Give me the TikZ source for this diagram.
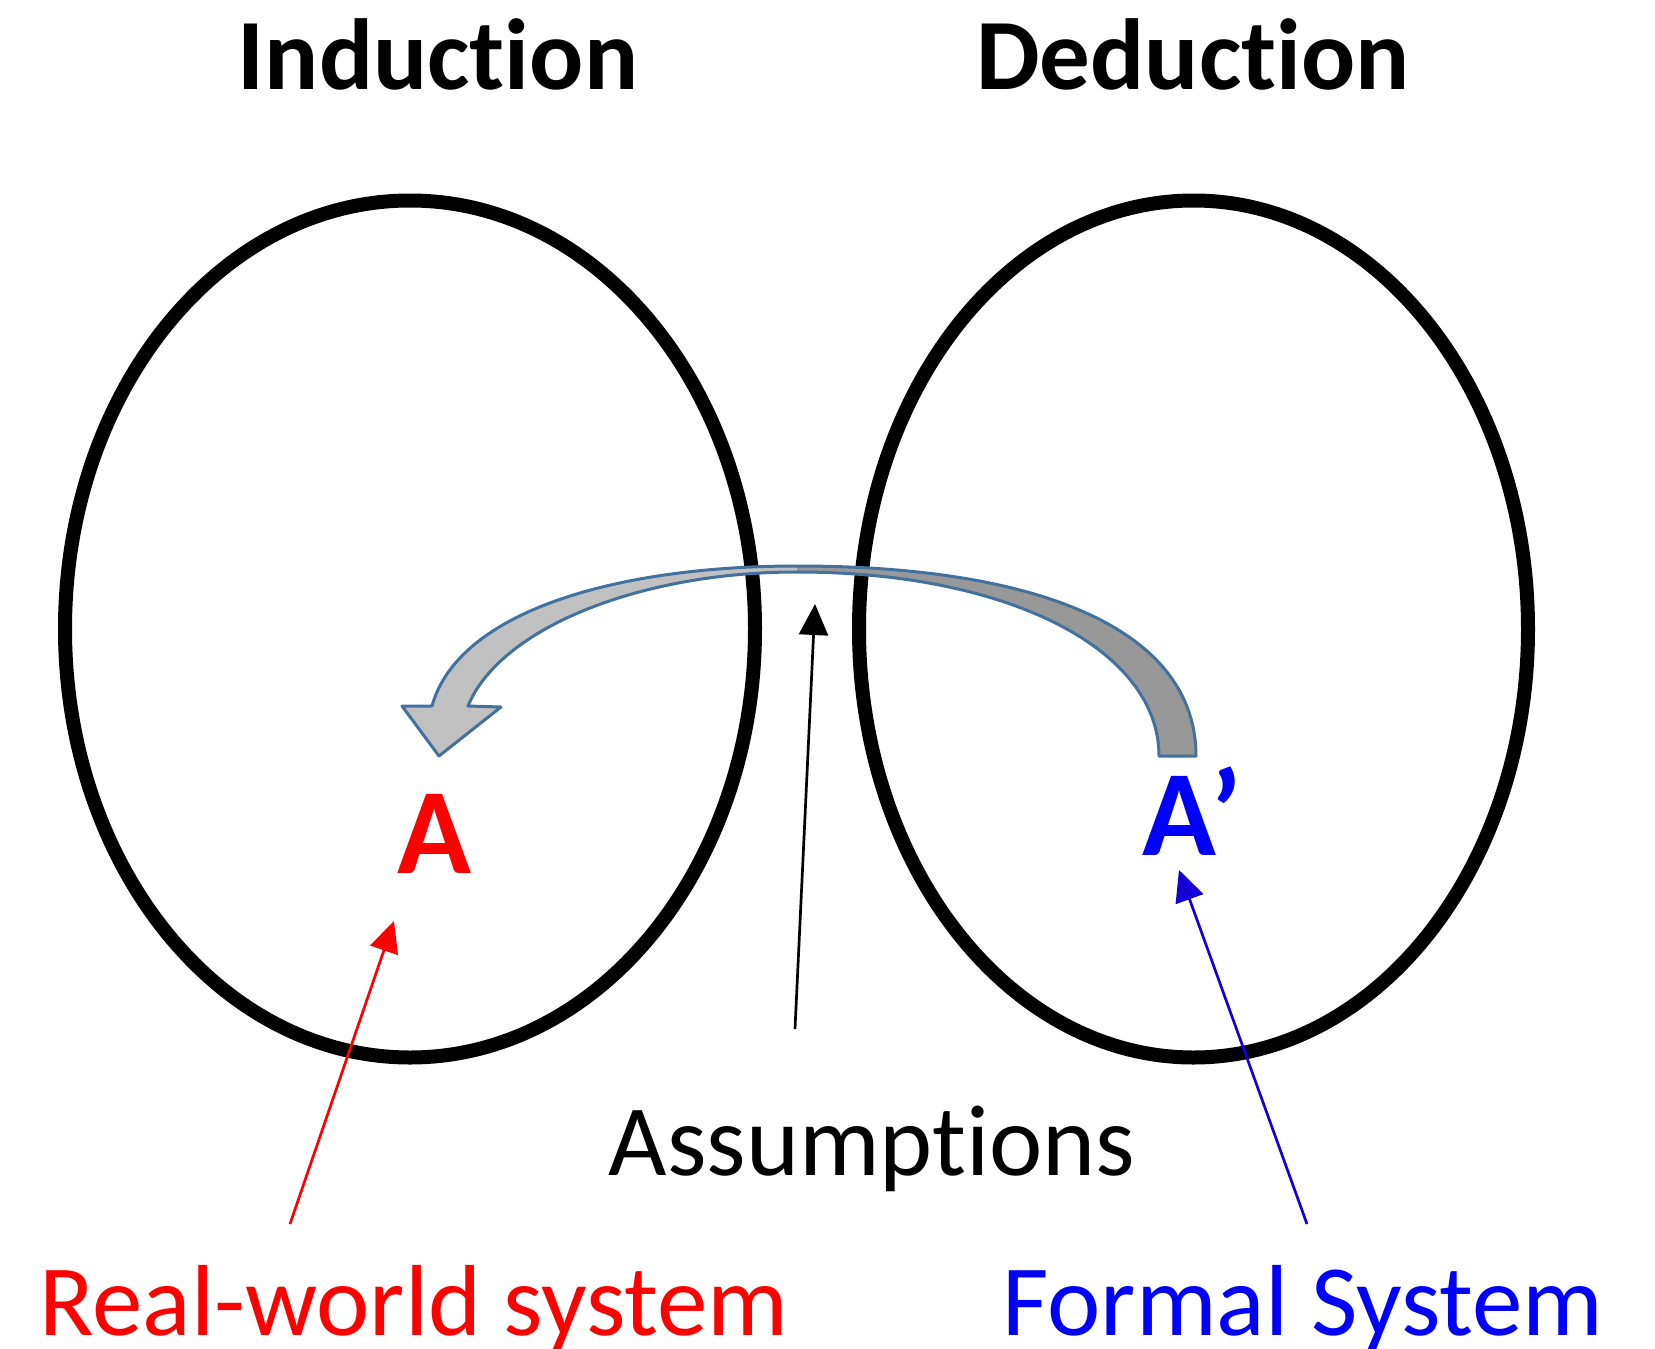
\documentclass[tikz,border=0pt]{standalone}
\usepackage{fontspec}
\setmainfont{Carlito}[Ligatures=CommonOff]
\usetikzlibrary{arrows.meta,shapes.geometric}
\definecolor{outl}{RGB}{65,113,156}
\definecolor{lightg}{RGB}{192,192,192}
\definecolor{darkg}{RGB}{152,152,152}
\definecolor{fblue}{RGB}{0,0,255}
\definecolor{ablue}{RGB}{20,0,215}
\begin{document}
\begin{tikzpicture}[x=1pt,y=-1pt,
  ring/.style={draw=black, line width=14pt, ellipse, inner sep=0pt},
  title/.style={anchor=base, inner sep=0pt, font=\bfseries\fontsize{101}{101}\selectfont},
  label/.style={anchor=base, inner sep=0pt, font=\fontsize{101}{101}\selectfont},
  bigletter/.style={anchor=base, inner sep=0pt, font=\bfseries\fontsize{122}{122}\selectfont},
  thinarrow/.style={line width=2.7pt, -{Triangle[length=31pt,width=29pt]}}]
\useasboundingbox (0,0) rectangle (1655,1349);
% titles
\node[title] (ind) at (438,89) {Induction};
\node[title] (ded) at (1193,89) {Deduction};
% ellipses
\node[ring, minimum width=690pt, minimum height=857pt] (L) at (410,629) {};
\node[ring, minimum width=669pt, minimum height=857pt] (R) at (1193.5,629) {};
% curved block arrow
\coordinate (ore) at (1196,756);
\coordinate (ire) at (1159,756);
\coordinate (otop) at (797,566);
\coordinate (itop) at (797,572);
\coordinate (osh) at (432,706);
\coordinate (ish) at (468,706);
\coordinate (hl) at (402,706);
\coordinate (hr) at (501,707);
\coordinate (tip) at (439,756);
\fill[lightg] (ore) .. controls (1196,632) and (1045,566) .. (otop)
  .. controls (615,566) and (458,612) .. (osh) -- (hl) -- (tip) -- (hr) -- (ish)
  .. controls (500,628) and (640,572) .. (itop)
  .. controls (1010,572) and (1159,650) .. (ire) -- cycle;
\fill[darkg] (ore) .. controls (1196,632) and (1045,566) .. (otop)
  -- (itop) .. controls (1010,572) and (1159,650) .. (ire) -- cycle;
\draw[outl, line width=3pt, line join=round] (ore) .. controls (1196,632) and (1045,566) .. (otop)
  .. controls (615,566) and (458,612) .. (osh) -- (hl) -- (tip) -- (hr) -- (ish)
  .. controls (500,628) and (640,572) .. (itop)
  .. controls (1010,572) and (1159,650) .. (ire) -- cycle;
% letters
\node[bigletter, text=red] (A) at (434,873) {A};
\node[bigletter, text=fblue] (Ap) at (1192,855) {A’};
% labels
\node[label] (asm) at (872,1175) {Assumptions};
\node[label, text=red] (rws) at (414,1335) {Real-world system};
\node[label, text=fblue] (fs) at (1303,1335) {Formal System};
% arrows
\coordinate (rs) at (290,1224);
\coordinate (rt) at (394,921);
\coordinate (bs) at (1307,1224);
\coordinate (bt) at (1179,870);
\coordinate (ks) at (795,1029);
\coordinate (kt) at (815,604);
\draw[thinarrow, red] (rs) -- (rt);
\draw[thinarrow, ablue] (bs) -- (bt);
\draw[thinarrow, black] (ks) -- (kt);
\end{tikzpicture}
\end{document}
